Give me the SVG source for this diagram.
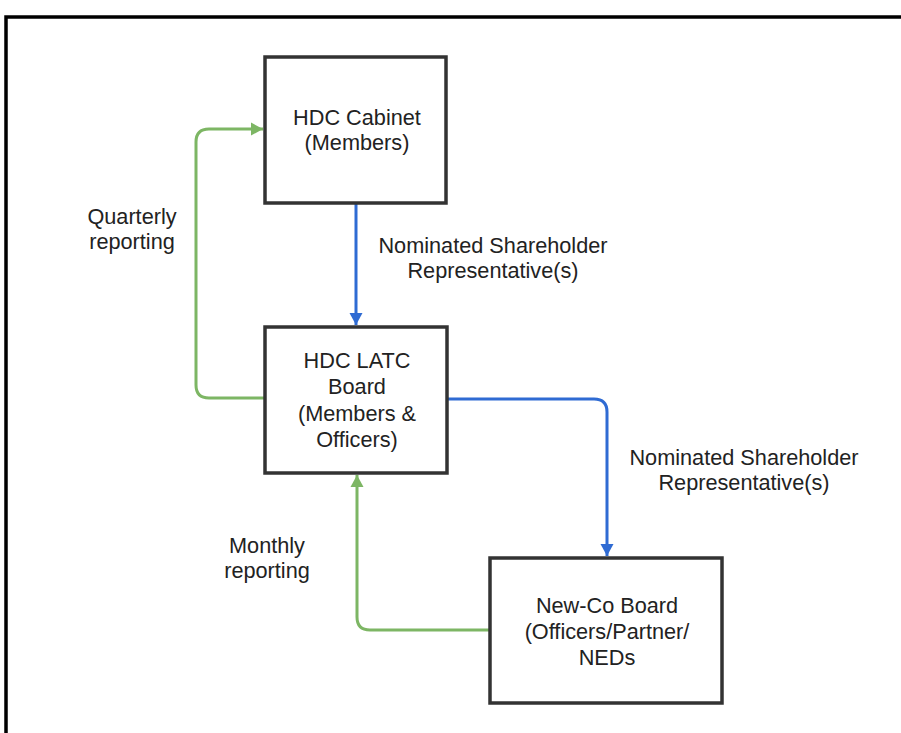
<svg xmlns="http://www.w3.org/2000/svg" width="901" height="733" viewBox="0 0 901 733">
<style>
.box{fill:#ffffff;stroke:#333333;stroke-width:3.5}
.t{font-family:"Liberation Sans",Arial,sans-serif;font-size:21.7px;fill:#222222;text-anchor:middle}
.blue{fill:none;stroke:#2f6bd3;stroke-width:3}
.green{fill:none;stroke:#7db664;stroke-width:3}
</style>
<defs>
<marker id="ab" markerUnits="userSpaceOnUse" markerWidth="16" markerHeight="16" viewBox="0 0 16 16" refX="14" refY="8" orient="auto">
<path d="M2,1.5 L14,8 L2,14.5 Z" fill="#2f6bd3"/>
</marker>
<marker id="ag" markerUnits="userSpaceOnUse" markerWidth="16" markerHeight="16" viewBox="0 0 16 16" refX="14" refY="8" orient="auto">
<path d="M2,1.5 L14,8 L2,14.5 Z" fill="#7db664"/>
</marker>
</defs>
<rect width="901" height="733" fill="#ffffff"/>
<path d="M6,733 V17 H901" fill="none" stroke="#000000" stroke-width="3.5"/>
<g id="connectors">
<path class="blue" d="M356,204 V325" marker-end="url(#ab)"/>
<path class="green" d="M265,398 H209 Q196,398 196,385 V142 Q196,129 209,129 H263" marker-end="url(#ag)"/>
<path class="blue" d="M447,399 H594 Q607,399 607,412 V556" marker-end="url(#ab)"/>
<path class="green" d="M490,630 H370 Q357,630 357,617 V475" marker-end="url(#ag)"/>
</g>
<g id="labels">
<text class="t" x="132" y="224">Quarterly</text>
<text class="t" x="132" y="249">reporting</text>
<text class="t" x="493" y="253">Nominated Shareholder</text>
<text class="t" x="493" y="278">Representative(s)</text>
<text class="t" x="744" y="465">Nominated Shareholder</text>
<text class="t" x="744" y="490">Representative(s)</text>
<text class="t" x="267" y="553">Monthly</text>
<text class="t" x="267" y="578">reporting</text>
</g>
<g id="hdc-cabinet">
<rect class="box" x="265" y="57" width="181" height="146"/>
<text class="t" x="357" y="125">HDC Cabinet</text>
<text class="t" x="357" y="150">(Members)</text>
</g>
<g id="hdc-latc-board">
<rect class="box" x="265" y="327" width="182" height="146"/>
<text class="t" x="357" y="368">HDC LATC</text>
<text class="t" x="357" y="394">Board</text>
<text class="t" x="357" y="421">(Members &amp;</text>
<text class="t" x="357" y="447">Officers)</text>
</g>
<g id="new-co-board">
<rect class="box" x="490" y="558" width="232" height="145"/>
<text class="t" x="607" y="613">New-Co Board</text>
<text class="t" x="607" y="639">(Officers/Partner/</text>
<text class="t" x="607" y="665">NEDs</text>
</g>
</svg>
